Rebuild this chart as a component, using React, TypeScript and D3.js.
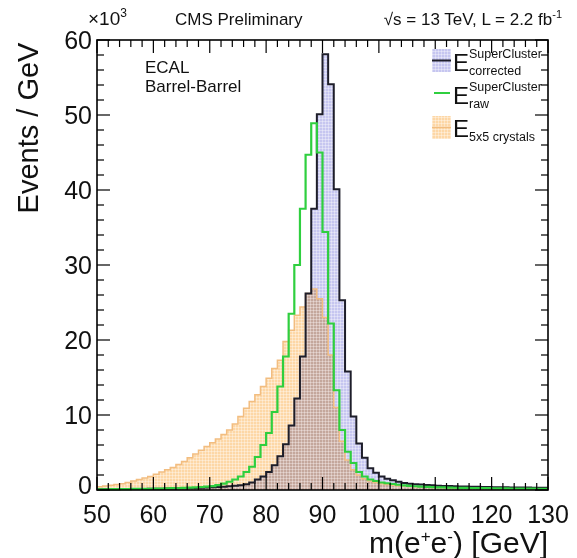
import React, { useRef, useEffect } from 'react';
import * as d3 from 'd3';

// 1 GeV bins from 50 to 130 GeV
const binEdges = d3.range(50, 131);
const xTickLabels = ['50', '60', '70', '80', '90', '100', '110', '120', '130'];
const yTickLabels = ['0', '10', '20', '30', '40', '50', '60'];

// events per bin, in units of 10^3
const correctedSC = [
  0.10, 0.10, 0.11, 0.11, 0.12, 0.12, 0.13, 0.14, 0.15, 0.16,
  0.17, 0.18, 0.19, 0.20, 0.22, 0.24, 0.26, 0.28, 0.30, 0.33,
  0.36, 0.40, 0.45, 0.50, 0.57, 0.65, 0.78, 1.0, 1.4, 1.8,
  2.4, 3.3, 4.5, 6.1, 8.6, 12.2, 17.8, 26.2, 37.5, 50.1,
  58.1, 54.1, 40.1, 25.3, 15.8, 9.8, 6.2, 4.3, 2.9, 2.3,
  1.8, 1.5, 1.3, 1.1, 0.95, 0.85, 0.78, 0.72, 0.66, 0.62,
  0.58, 0.55, 0.52, 0.50, 0.48, 0.46, 0.44, 0.42, 0.40, 0.39,
  0.38, 0.37, 0.36, 0.35, 0.34, 0.33, 0.32, 0.31, 0.30, 0.29,
];

const rawSC = [
  0.10, 0.10, 0.11, 0.12, 0.12, 0.13, 0.14, 0.15, 0.16, 0.17,
  0.19, 0.20, 0.22, 0.24, 0.26, 0.29, 0.32, 0.36, 0.40, 0.46,
  0.53, 0.65, 0.85, 1.1, 1.4, 1.8, 2.4, 3.1, 4.4, 6.0,
  7.6, 10.4, 13.8, 17.8, 23.5, 30.0, 37.5, 44.7, 48.9, 45.0,
  34.4, 22.2, 13.3, 8.0, 5.1, 3.6, 2.4, 1.8, 1.4, 1.2,
  1.0, 0.9, 0.8, 0.7, 0.62, 0.56, 0.50, 0.46, 0.42, 0.39,
  0.36, 0.34, 0.32, 0.30, 0.29, 0.28, 0.27, 0.26, 0.25, 0.24,
  0.23, 0.22, 0.21, 0.20, 0.20, 0.19, 0.18, 0.18, 0.17, 0.17,
];

const crystals5x5 = [
  0.45, 0.55, 0.65, 0.75, 0.85, 1.0, 1.2, 1.4, 1.6, 1.8,
  2.1, 2.4, 2.7, 3.0, 3.4, 3.8, 4.3, 4.8, 5.3, 5.8,
  6.3, 6.8, 7.4, 8.0, 8.8, 9.8, 10.9, 11.8, 12.7, 13.8,
  14.9, 16.2, 17.3, 19.8, 21.3, 23.3, 24.4, 26.2, 26.8, 25.5,
  23.0, 18.0, 11.0, 6.5, 4.0, 2.7, 2.0, 1.5, 1.2, 1.0,
  0.85, 0.75, 0.65, 0.58, 0.52, 0.47, 0.43, 0.40, 0.37, 0.34,
  0.32, 0.30, 0.28, 0.26, 0.25, 0.24, 0.23, 0.22, 0.21, 0.20,
  0.19, 0.18, 0.17, 0.16, 0.16, 0.15, 0.15, 0.14, 0.14, 0.13,
];

const FONT = '"Liberation Sans", Arial, Helvetica, sans-serif';

const App = () => {
  const svgRef = useRef<SVGSVGElement>(null);

  useEffect(() => {
    const width = 577;
    const height = 558;
    const margin = { top: 40, right: 29, bottom: 68, left: 97 };
    const innerWidth = width - margin.left - margin.right;
    const innerHeight = height - margin.top - margin.bottom;

    const svg = d3.select(svgRef.current);
    svg.selectAll('*').remove();

    const x = d3.scaleLinear().domain([50, 130]).range([0, innerWidth]);
    const y = d3.scaleLinear().domain([0, 60]).range([innerHeight, 0]);

    // fill textures (ROOT-like fine grid)
    const defs = svg.append('defs');
    const makePattern = (id: string, color: string) => {
      const p = defs.append('pattern')
        .attr('id', id)
        .attr('width', 3).attr('height', 3)
        .attr('patternUnits', 'userSpaceOnUse');
      p.append('rect').attr('width', 3).attr('height', 3).attr('fill', color);
      p.append('path')
        .attr('d', 'M0,0.5H3M0.5,0V3')
        .attr('stroke', '#ffffff')
        .attr('stroke-opacity', 0.35)
        .attr('stroke-width', 1);
    };
    makePattern('blueFill', '#c6c6f0');
    makePattern('orangeFill', '#fdd7a6');

    const g = svg.append('g').attr('transform', `translate(${margin.left},${margin.top})`);

    const toSteps = (vals: number[]) => {
      const pts = vals.map((v, i) => ({ x: binEdges[i], y: v }));
      pts.push({ x: binEdges[binEdges.length - 1], y: vals[vals.length - 1] });
      return pts;
    };

    const area = d3.area<{ x: number; y: number }>()
      .x(d => x(d.x))
      .y0(y(0))
      .y1(d => y(d.y))
      .curve(d3.curveStepAfter);

    const line = d3.line<{ x: number; y: number }>()
      .x(d => x(d.x))
      .y(d => y(d.y))
      .curve(d3.curveStepAfter);

    const corrPts = toSteps(correctedSC);
    const rawPts = toSteps(rawSC);
    const crysPts = toSteps(crystals5x5);

    g.append('path').datum(corrPts).attr('d', area).attr('fill', 'url(#blueFill)');
    g.append('path').datum(crysPts).attr('d', area)
      .attr('fill', 'url(#orangeFill)')
      .style('mix-blend-mode', 'multiply');
    g.append('path').datum(crysPts).attr('d', line)
      .attr('fill', 'none').attr('stroke', '#f2bd80').attr('stroke-width', 1.5);
    g.append('path').datum(corrPts).attr('d', line)
      .attr('fill', 'none').attr('stroke', '#1e1e2a').attr('stroke-width', 2);
    g.append('path').datum(rawPts).attr('d', line)
      .attr('fill', 'none').attr('stroke', '#2fcf3f').attr('stroke-width', 2.2);

    // ticks on all four sides, pointing inwards
    const ax = g.append('g').attr('stroke', '#000');
    d3.range(50, 131, 2).forEach(v => {
      const len = v % 10 === 0 ? 13 : 7;
      ax.append('line').attr('x1', x(v)).attr('x2', x(v))
        .attr('y1', innerHeight).attr('y2', innerHeight - len).attr('stroke-width', 1.2);
      ax.append('line').attr('x1', x(v)).attr('x2', x(v))
        .attr('y1', 0).attr('y2', len).attr('stroke-width', 1.2);
    });
    d3.range(0, 61, 2).forEach(v => {
      const len = v % 10 === 0 ? 13 : 7;
      ax.append('line').attr('y1', y(v)).attr('y2', y(v))
        .attr('x1', 0).attr('x2', len).attr('stroke-width', 1.2);
      ax.append('line').attr('y1', y(v)).attr('y2', y(v))
        .attr('x1', innerWidth).attr('x2', innerWidth - len).attr('stroke-width', 1.2);
    });

    g.append('rect')
      .attr('width', innerWidth).attr('height', innerHeight)
      .attr('fill', 'none').attr('stroke', '#000').attr('stroke-width', 1.6);

    // tick labels
    g.selectAll('.xlab').data(xTickLabels).enter().append('text')
      .attr('x', d => x(+d)).attr('y', innerHeight + 33)
      .attr('text-anchor', 'middle')
      .attr('font-family', FONT).attr('font-size', 25).attr('fill', '#111')
      .text(d => d);

    // the zero label sits a little higher, as in ROOT
    g.selectAll('.ylab').data(yTickLabels).enter().append('text')
      .attr('x', -5).attr('y', d => y(+d) + (d === '0' ? 4 : 9))
      .attr('text-anchor', 'end')
      .attr('font-family', FONT).attr('font-size', 25).attr('fill', '#111')
      .text(d => d);

    // axis titles
    svg.append('text')
      .attr('transform', `translate(38,${margin.top + 88}) rotate(-90)`)
      .attr('text-anchor', 'middle')
      .attr('font-family', FONT).attr('font-size', 29).attr('fill', '#111')
      .text('Events / GeV');

    const xt = svg.append('text')
      .attr('x', margin.left + innerWidth).attr('y', 553)
      .attr('text-anchor', 'end')
      .attr('font-family', FONT).attr('font-size', 30).attr('fill', '#111');
    xt.append('tspan').text('m(e');
    xt.append('tspan').attr('dy', -11).attr('font-size', 17).text('+');
    xt.append('tspan').attr('dy', 11).text('e');
    xt.append('tspan').attr('dy', -11).attr('font-size', 17).text('-');
    xt.append('tspan').attr('dy', 11).text(') [GeV]');

    // header texts
    const exp = svg.append('text')
      .attr('x', 88).attr('y', 25)
      .attr('font-family', FONT).attr('font-size', 19).attr('fill', '#111');
    exp.append('tspan').text('\u00d710');
    exp.append('tspan').attr('dy', -8).attr('font-size', 12).text('3');

    svg.append('text')
      .attr('x', 175).attr('y', 25)
      .attr('font-family', FONT).attr('font-size', 17).attr('fill', '#111')
      .text('CMS Preliminary');

    const lumi = svg.append('text')
      .attr('x', 562).attr('y', 25)
      .attr('text-anchor', 'end')
      .attr('font-family', FONT).attr('font-size', 17).attr('fill', '#111');
    lumi.append('tspan').text('\u221as = 13 TeV, L = 2.2 fb');
    lumi.append('tspan').attr('dy', -7).attr('font-size', 11).text('-1');

    svg.append('text')
      .attr('x', 145).attr('y', 73)
      .attr('font-family', FONT).attr('font-size', 17).attr('fill', '#111')
      .text('ECAL');
    svg.append('text')
      .attr('x', 145).attr('y', 92)
      .attr('font-family', FONT).attr('font-size', 17).attr('fill', '#111')
      .text('Barrel-Barrel');

    // legend
    const lg = svg.append('g');
    const lx = 432;
    lg.append('rect').attr('x', lx).attr('y', 49).attr('width', 19).attr('height', 23)
      .attr('fill', 'url(#blueFill)');
    lg.append('line').attr('x1', lx).attr('x2', lx + 19).attr('y1', 60.5).attr('y2', 60.5)
      .attr('stroke', '#1e1e2a').attr('stroke-width', 2);
    lg.append('line').attr('x1', lx + 2).attr('x2', lx + 18).attr('y1', 93).attr('y2', 93)
      .attr('stroke', '#2fcf3f').attr('stroke-width', 2);
    lg.append('rect').attr('x', lx).attr('y', 116).attr('width', 19).attr('height', 23)
      .attr('fill', 'url(#orangeFill)');
    lg.append('line').attr('x1', lx).attr('x2', lx + 19).attr('y1', 127.5).attr('y2', 127.5)
      .attr('stroke', '#f2bd80').attr('stroke-width', 1.5);

    const legendText = (ty: number, sup: string | null, sub: string) => {
      lg.append('text').attr('x', 453).attr('y', ty)
        .attr('font-family', FONT).attr('font-size', 24).attr('fill', '#111').text('E');
      if (sup) {
        lg.append('text').attr('x', 469).attr('y', ty - 13)
          .attr('font-family', FONT).attr('font-size', 12.5).attr('fill', '#111').text(sup);
      }
      lg.append('text').attr('x', 469).attr('y', ty + 4)
        .attr('font-family', FONT).attr('font-size', 12.5).attr('fill', '#111').text(sub);
    };
    legendText(71, 'SuperCluster', 'corrected');
    legendText(104, 'SuperCluster', 'raw');
    legendText(137, null, '5x5 crystals');
  }, []);

  return (
    <svg
      ref={svgRef}
      width={577}
      height={558}
      style={{ position: 'absolute', left: 0, top: 0, background: '#ffffff' }}
    />
  );
};

export default App;
